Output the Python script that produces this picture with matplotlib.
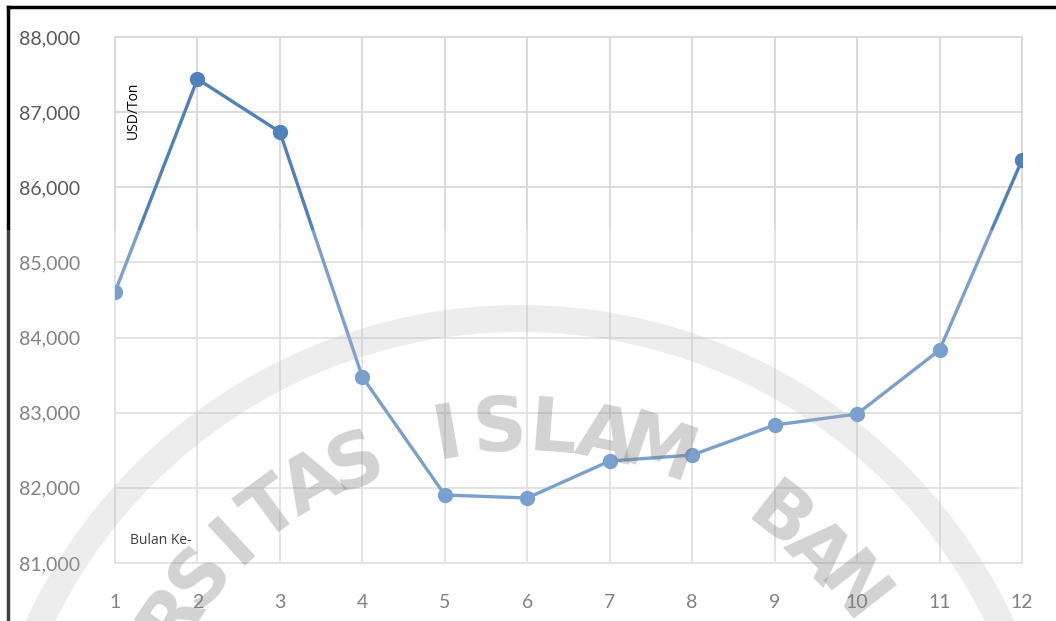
import numpy as np
import matplotlib
matplotlib.use('Agg')
import matplotlib.pyplot as plt
from matplotlib.patches import Rectangle, Wedge

months = [1, 2, 3, 4, 5, 6, 7, 8, 9, 10, 11, 12]
prices = [84606, 87441, 86736, 83475, 81905, 81865, 82357, 82437, 82836, 82983, 83834, 86363]
yticks = [81000, 82000, 83000, 84000, 85000, 86000, 87000, 88000]

# watermark letters and their angles (deg) on the circle
wm_letters = list("RSITAS") + list("ISLAM") + list("BAN")
wm_angles = [146, 139.4, 132.8, 126.2, 119.6, 113,
             100, 92.75, 85.5, 78.25, 71,
             52, 45, 38]

W, H = 1056, 621
fig = plt.figure(figsize=(W / 100, H / 100), dpi=100)
ax = fig.add_axes([115 / W, 1 - 563 / H, (1022 - 115) / W, (563 - 37) / H])

ax.plot(months, prices, color='#4f81bd', linewidth=2.4, marker='o',
        markersize=10, zorder=3)

ax.set_xlim(1, 12)
ax.set_ylim(81000, 88000)
ax.set_xticks(months)
ax.set_yticks(yticks)
ax.set_yticklabels(['{:,}'.format(v) for v in yticks])
ax.grid(True, color='#d9d9d9', linewidth=1.3)
ax.set_axisbelow(True)
for s in ax.spines.values():
    s.set_color('#d9d9d9')
    s.set_linewidth(1.3)
ax.tick_params(length=0, labelsize=14, colors='#595959', pad=22)
ax.tick_params(axis='y', pad=25)
for lab in ax.get_xticklabels() + ax.get_yticklabels():
    lab.set_fontfamily('Lato')

fig.text(133 / W, 1 - 110 / H, 'USD/Ton', rotation=90, fontsize=10,
         family='Open Sans', ha='center', va='center')
fig.text(130 / W, 1 - 540 / H, 'Bulan Ke-', fontsize=10, family='Open Sans',
         ha='left', va='center')

# page border lines
fig.add_artist(plt.Line2D([8 / W, 8 / W], [0, 1 - 7 / H], color='black',
                          linewidth=2.5, transform=fig.transFigure))
fig.add_artist(plt.Line2D([8 / W, 1], [1 - 7 / H, 1 - 7 / H], color='black',
                          linewidth=2.5, transform=fig.transFigure))

# faded lower part of the scan
fig.add_artist(Rectangle((0, 0), 1, 1 - 230 / H, transform=fig.transFigure,
                         facecolor='white', alpha=0.25, edgecolor='none', zorder=4))

# watermark arc and letters (pixel coordinates)
cx, cy = 520, H - 850
arc = Wedge((cx, cy), 545, 0, 180, width=27, transform=None,
            facecolor='#b0b0b0', alpha=0.22, edgecolor='none', zorder=5)
fig.add_artist(arc)
for ch, a in zip(wm_letters, wm_angles):
    r = 420
    x = cx + r * np.cos(np.radians(a))
    y = cy + r * np.sin(np.radians(a))
    fig.text(x / W, y / H, ch, fontsize=54, family='DejaVu Sans', weight='bold',
             color='#808080', alpha=0.35, rotation=a - 90,
             ha='center', va='center', zorder=6)

fig.savefig('out.png', dpi=100)
